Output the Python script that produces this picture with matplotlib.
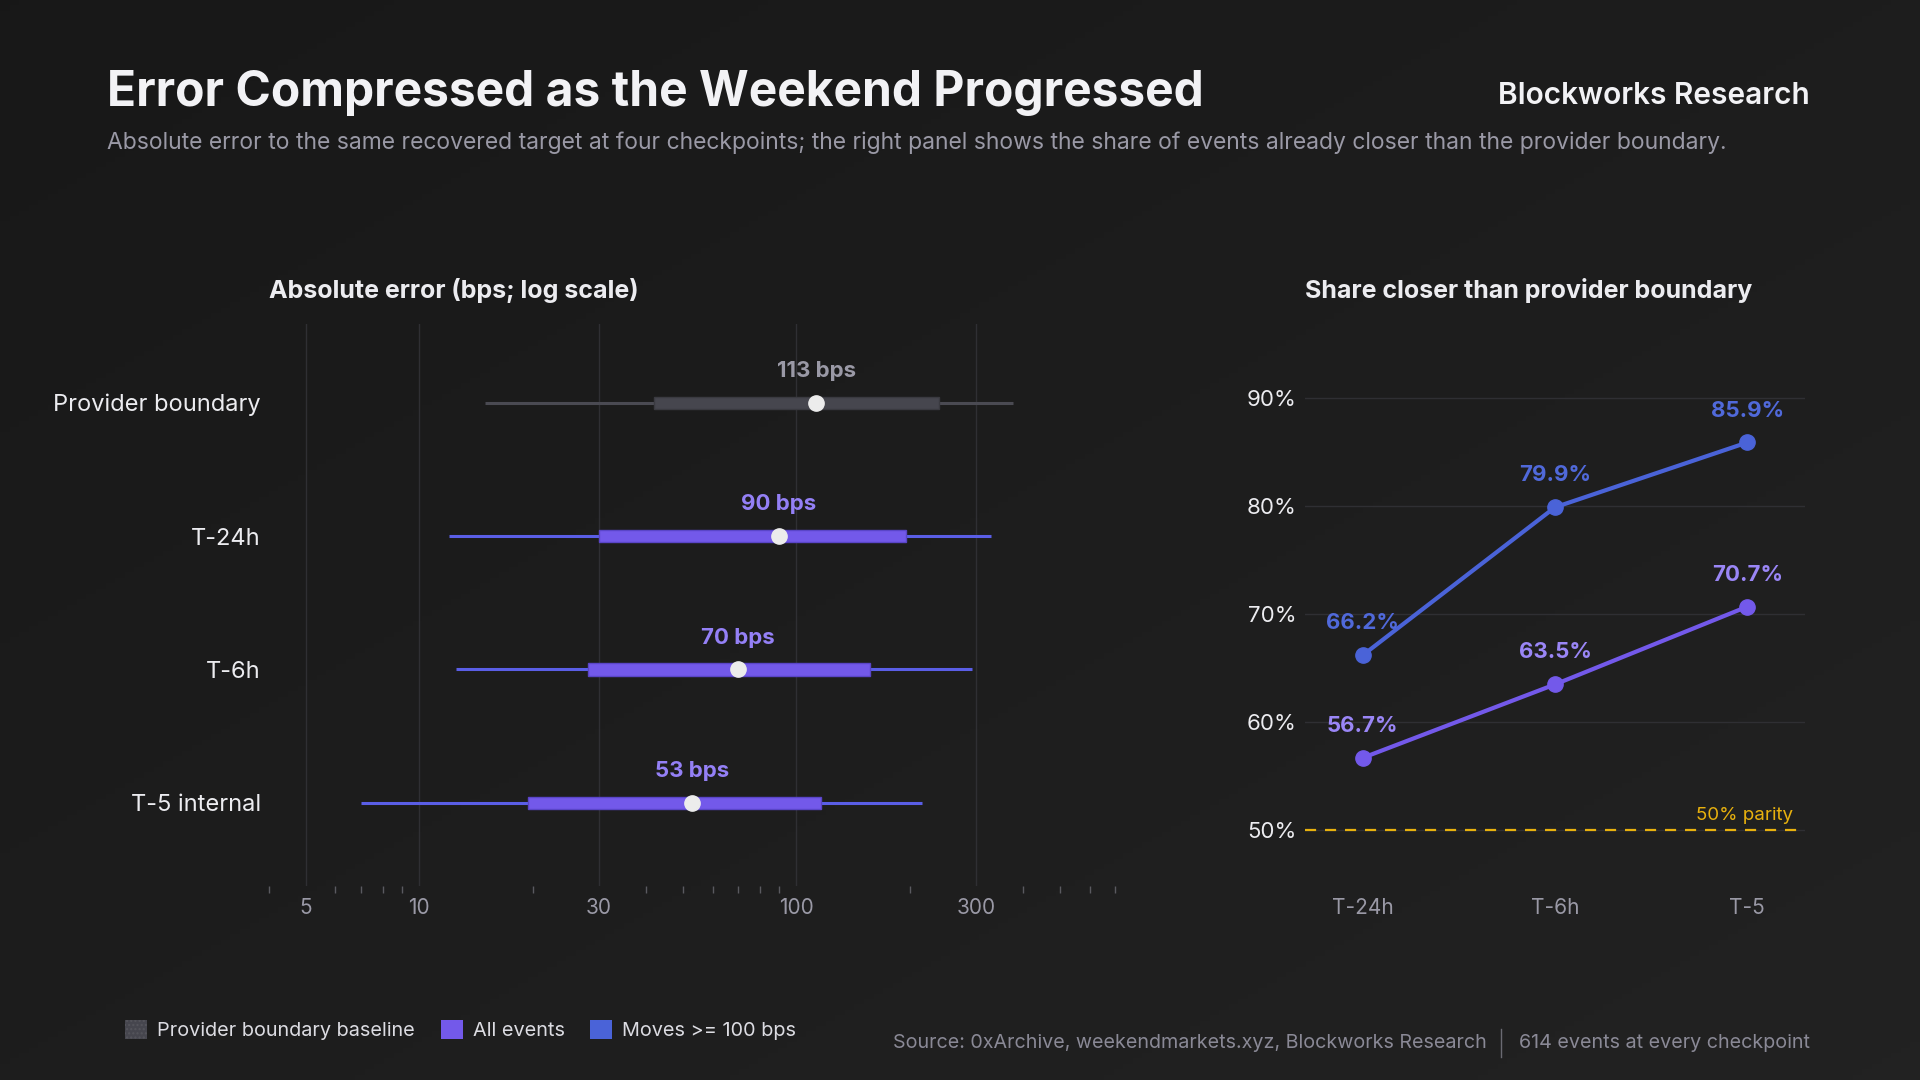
import numpy as np
import matplotlib
matplotlib.use('Agg')
import matplotlib.pyplot as plt
from matplotlib.patches import Patch
from matplotlib.lines import Line2D
from matplotlib.ticker import FixedLocator, NullFormatter

plt.rcParams['font.family'] = ['Inter', 'DejaVu Sans']

# left panel: absolute error distribution (bps)
rows = ['Provider boundary', 'T-24h', 'T-6h', 'T-5 internal']
lo = [15.0, 12.0, 12.5, 7.0]
q1 = [42.0, 30.0, 28.0, 19.4]
med = [113, 90, 70, 53]
q3 = [239, 195, 157, 116]
hi = [375, 328, 292, 216]

# right panel: share closer than provider boundary (%)
checkpoints = ['T-24h', 'T-6h', 'T-5']
share_all = [56.7, 63.5, 70.7]
share_big = [66.2, 79.9, 85.9]

major_x = [5, 10, 30, 100, 300]
minor_x = [4, 6, 7, 8, 9, 20, 40, 50, 60, 70, 80, 90, 200, 400, 500, 600, 700]

PURPLE = '#7359ea'
BLUE = '#4a63d8'
GREY_BAR = '#46464e'
TXT = '#ececf0'
MUTED = '#9a99a6'

fig = plt.figure(figsize=(19.2, 10.8), dpi=100)

# background gradient
bg = fig.add_axes([0, 0, 1, 1], zorder=-10)
gx, gy = np.meshgrid(np.linspace(0, 1, 200), np.linspace(0, 1, 200))
grad = 0.094 + 0.04 * (gx * 0.5 + gy * 0.5)
bg.imshow(np.dstack([grad, grad, grad]), aspect='auto', extent=[0, 1, 0, 1], origin='upper')
bg.axis('off')

# ---- left panel ----
ax = fig.add_axes([0.1401, 0.180, 0.4406, 0.520])
ax.set_facecolor('none')
ax.set_xscale('log')
ax.set_xlim(4, 700)
ax.set_ylim(3.62, -0.59)
ypos = np.arange(len(rows))
for i in ypos:
    if i == 0:
        wc, bc, ec, lc = '#4a4a52', GREY_BAR, '#3a3a40', MUTED
    else:
        wc, bc, ec, lc = '#5a5ee6', PURPLE, '#5a45c8', '#9480f6'
    ax.hlines(i, lo[i], hi[i], color=wc, lw=2.2, zorder=2)
    ax.barh(i, q3[i] - q1[i], left=q1[i], height=0.09, color=bc, edgecolor=ec, lw=1, zorder=3)
    ax.plot(med[i], i, 'o', ms=11, color='#ececec', zorder=4)
    ax.annotate(f'{med[i]} bps', (med[i], i), xytext=(0, 23), textcoords='offset points',
                ha='center', va='center', fontsize=16, fontweight='bold', color=lc)
ax.xaxis.set_major_locator(FixedLocator(major_x))
ax.set_xticklabels([str(v) for v in major_x])
ax.xaxis.set_minor_locator(FixedLocator(minor_x))
ax.xaxis.set_minor_formatter(NullFormatter())
ax.tick_params(axis='x', which='major', length=0, pad=9, labelsize=15, labelcolor=MUTED)
ax.tick_params(axis='x', which='minor', length=5, width=1, color='#5a5a60', direction='out')
ax.set_yticks(ypos)
ax.set_yticklabels(rows)
ax.tick_params(axis='y', length=0, pad=6, labelsize=17, labelcolor=TXT)
ax.grid(axis='x', which='major', color='#2f2f33', lw=1)
ax.set_axisbelow(True)
for s in ax.spines.values():
    s.set_visible(False)
ax.set_title('Absolute error (bps; log scale)', loc='left', fontsize=18, fontweight='bold',
             color=TXT, pad=19)

# ---- right panel ----
ax2 = fig.add_axes([0.6797, 0.180, 0.2604, 0.520])
ax2.set_facecolor('none')
xs = np.arange(len(checkpoints))
ax2.set_xlim(-0.30, 2.30)
ax2.set_ylim(44.87, 96.87)
ax2.plot(xs, share_big, '-o', color=BLUE, lw=3, ms=11, zorder=3)
ax2.plot(xs, share_all, '-o', color=PURPLE, lw=3, ms=11, zorder=3)
for x, v in zip(xs, share_big):
    ax2.annotate(f'{v:.1f}%', (x, v), xytext=(0, 23), textcoords='offset points', ha='center',
                 va='center', fontsize=16, fontweight='bold', color='#5069da')
for x, v in zip(xs, share_all):
    ax2.annotate(f'{v:.1f}%', (x, v), xytext=(0, 23), textcoords='offset points', ha='center',
                 va='center', fontsize=16, fontweight='bold', color='#9a86f6')
ax2.axhline(50, color='#e8b10e', lw=1.6, ls=(0, (5, 4)), zorder=2)
ax2.text(2.24, 50.6, '50% parity', ha='right', va='bottom', fontsize=13.5, color='#e8b10e')
ax2.set_yticks([50, 60, 70, 80, 90])
ax2.set_yticklabels([f'{v}%' for v in [50, 60, 70, 80, 90]])
ax2.set_xticks(xs)
ax2.set_xticklabels(checkpoints)
ax2.tick_params(axis='y', length=0, pad=6, labelsize=16, labelcolor=TXT)
ax2.tick_params(axis='x', length=0, pad=9, labelsize=15, labelcolor=MUTED)
ax2.grid(axis='y', color='#2f2f33', lw=1)
ax2.set_axisbelow(True)
for s in ax2.spines.values():
    s.set_visible(False)
ax2.set_title('Share closer than provider boundary', loc='left', fontsize=18, fontweight='bold',
              color=TXT, pad=19)

# ---- header ----
fig.text(0.0557, 0.914, 'Error Compressed as the Weekend Progressed', fontsize=34.5,
         fontweight='bold', color='#f2f2f5', va='center', ha='left')
fig.text(0.0557, 0.868, 'Absolute error to the same recovered target at four checkpoints; '
         'the right panel shows the share of events already closer than the provider boundary.',
         fontsize=16.5, color=MUTED, va='center', ha='left')
fig.text(0.9427, 0.911, 'Blockworks Research', fontsize=21.5, fontweight='semibold',
         color='#f2f2f5', va='center', ha='right')

# ---- footer ----
handles = [Patch(facecolor=GREY_BAR, edgecolor='#55555c', hatch='....', lw=0),
           Patch(facecolor=PURPLE, lw=0),
           Patch(facecolor=BLUE, lw=0)]
labels = ['Provider boundary baseline', 'All events', 'Moves >= 100 bps']
fig.legend(handles, labels, loc='center left', bbox_to_anchor=(0.056, 0.046), ncol=3,
           frameon=False, fontsize=14.3, labelcolor='#dcdce2', handlelength=1.1, handleheight=1.1,
           handletextpad=0.5, columnspacing=1.3)
fig.text(0.7745, 0.034, 'Source: 0xArchive, weekendmarkets.xyz, Blockworks Research',
         fontsize=14.2, color='#8a8996', ha='right', va='center')
fig.add_artist(Line2D([0.7818, 0.7818], [0.021, 0.047], color='#6a6a72', lw=1))
fig.text(0.9427, 0.034, '614 events at every checkpoint', fontsize=14.2, color='#8a8996',
         ha='right', va='center')

fig.savefig('out.png', dpi=100)
